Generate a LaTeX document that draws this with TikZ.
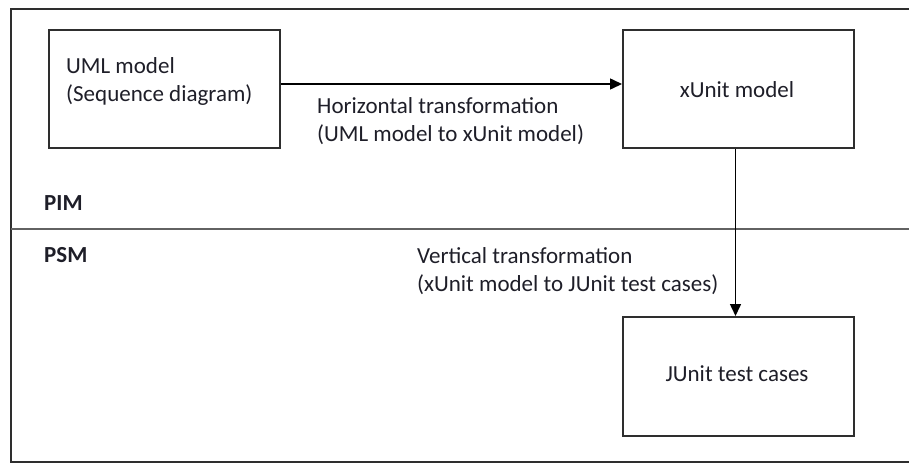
\documentclass[tikz,border=0pt]{standalone}
\usepackage{fontspec}
\setmainfont{Carlito}
\usetikzlibrary{arrows.meta}
\definecolor{linegray}{HTML}{2E2E2E}
\definecolor{textgray}{HTML}{1E1E28}
\begin{document}
\begin{tikzpicture}[x=1pt,y=-1pt,
  frame/.style={draw=linegray, line width=2pt},
  box/.style={draw=linegray, line width=2pt, minimum width=231pt,
    minimum height=118pt, inner sep=0pt, anchor=north west},
  txt/.style={font=\fontsize{23}{28}\selectfont, text=textgray, align=left, inner sep=0pt},
  layer/.style={txt, font=\fontsize{23}{28}\selectfont\bfseries, anchor=west},
  conn/.style={draw=black, line width=1.5pt, -{Triangle[length=12pt,width=11pt]}}]
\useasboundingbox (0,0) rectangle (909,464);

% outer frame (open on the right) and the PIM/PSM divider
\draw[frame] (909,9) -- (11,9) -- (11,462) -- (909,462);
\draw[frame, draw=linegray!75] (11,229) -- (909,229);

% model boxes
\node[box] (uml) at (48,29) {};
\node[box] (xunit) at (622,29) {};
\node[box, minimum height=119pt] (junit) at (622,316) {};

% box texts
\node[txt, anchor=west] (umltext) at (66,81) {UML model\\(Sequence diagram)};
\node[txt] (xunittext) at (737,90) {xUnit model};
\node[txt] (junittext) at (737,374) {JUnit test cases};

% layer labels
\node[layer] (pim) at (44,203) {PIM};
\node[layer] (psm) at (44,255) {PSM};

% transformations
\draw[conn] ([yshift=5pt]uml.east) -- ([yshift=5pt]xunit.west);
\draw[conn] ([xshift=-3pt]xunit.south) -- ([xshift=-3pt]junit.north);

\node[txt, anchor=west] (htext) at (317,121) {Horizontal transformation\\(UML model to xUnit model)};
\node[txt, anchor=west] (vtext) at (417,271) {Vertical transformation\\(xUnit model to JUnit test cases)};
\end{tikzpicture}
\end{document}
